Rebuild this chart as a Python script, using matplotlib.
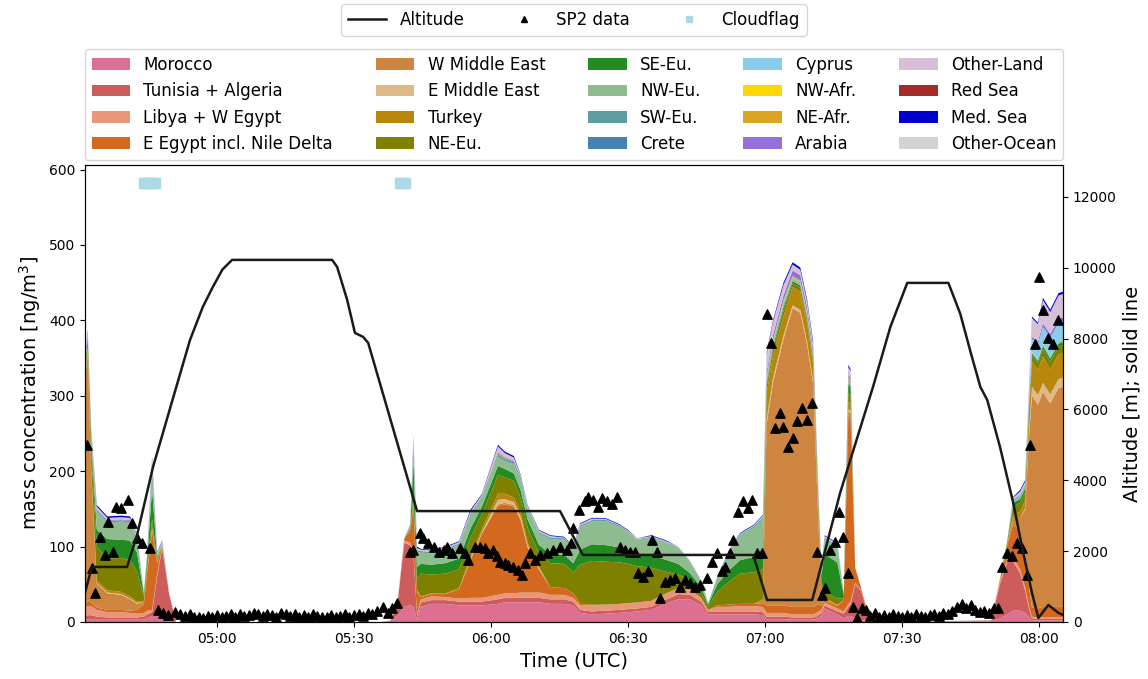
import numpy as np
import pandas as pd
import matplotlib
matplotlib.use("Agg")
import matplotlib.pyplot as plt
import matplotlib.dates as mdates
from matplotlib.lines import Line2D

# time axis: minutes after 05:00 UTC
t = [-29, -28.3, -27.5, -26.3, -24, -21, -19, -17.5, -16, -15.3, -14.2, -13.1, -12, -10.5, -9,
     36, 38, 39.5, 41, 42.3, 43, 43.8, 44.6, 47, 50, 53, 55.5, 58, 61.5, 63, 65, 66.5, 68, 70.5, 73, 76, 78,
     79.5, 82, 85, 88, 90, 92, 95, 98, 101, 103.5, 106, 107.5, 109.5, 112, 114.5, 117.5, 119.5,
     120.3, 121.7, 124, 126, 127.7, 129.2, 130.5, 131.5, 132.3, 133, 135.8, 137.2, 138.2, 138.7, 139.7, 141, 143,
     169.5, 171.5, 173, 174.3, 175.8, 176.9, 177.8, 178.4, 179.7, 180.8, 182.4, 184.2, 185.2]

morocco = [3, 3, 3, 3, 3, 3, 3, 3, 3, 5, 8, 10, 8, 3, 0,
           0, 1, 8, 20, 22, 20, 3, 20, 24, 24, 22, 22, 22, 24, 26, 26, 26, 26, 26, 24, 24, 22,
           12, 10, 11, 12, 13, 14, 16, 24, 30, 30, 22, 10, 10, 10, 10, 10, 9,
           4, 4, 4, 3, 3, 3, 3, 5, 8, 18, 10, 5, 8, 8, 5, 3, 0,
           1, 5, 10, 15, 15, 12, 6, 2, 2, 2, 2, 2, 2]
tunisia = [5, 6, 6, 4, 3, 3, 3, 3, 4, 5, 5, 50, 90, 35, 0,
           0, 1, 15, 85, 80, 70, 5, 6, 5, 5, 5, 5, 5, 6, 6, 6, 6, 6, 6, 6, 6, 5,
           4, 4, 4, 4, 4, 4, 4, 5, 7, 6, 5, 3, 4, 4, 4, 4, 4,
           3, 3, 3, 3, 3, 3, 3, 3, 4, 4, 4, 6, 12, 15, 45, 38, 0,
           1, 48, 70, 65, 50, 30, 10, 3, 2, 2, 2, 2, 2]
libya = [10, 12, 12, 9, 7, 7, 6, 5, 5, 5, 3, 3, 2, 1, 0,
         0, 0, 1, 3, 3, 3, 2, 4, 5, 4, 4, 5, 5, 6, 6, 6, 7, 7, 7, 6, 6, 5,
         6, 8, 8, 8, 8, 8, 8, 8, 8, 7, 5, 3, 6, 6, 7, 7, 7,
         5, 5, 5, 4, 4, 4, 4, 5, 4, 4, 4, 3, 4, 4, 2, 1, 0,
         0, 3, 4, 5, 5, 4, 3, 2, 2, 2, 2, 2, 2]
e_egypt = [5, 6, 5, 3, 3, 3, 3, 5, 12, 50, 105, 15, 2, 0, 0,
           0, 0, 1, 3, 15, 60, 30, 3, 3, 4, 12, 50, 85, 118, 118, 115, 95, 60, 30, 10, 9, 6,
           2, 1, 0, 0, 0, 0, 0, 0, 0, 0, 0, 0, 2, 3, 3, 3, 5,
           10, 10, 10, 10, 10, 10, 10, 10, 6, 3, 3, 15, 250, 245, 20, 3, 0,
           0, 3, 18, 45, 50, 48, 25, 12, 12, 14, 14, 14, 14]
w_mideast = [290, 330, 170, 32, 22, 20, 15, 8, 3, 2, 2, 1, 0, 0, 0,
             0, 0, 0, 0, 0, 2, 1, 0, 0, 0, 0, 1, 1, 2, 2, 2, 2, 1, 1, 0, 0, 0,
             0, 0, 0, 0, 0, 0, 0, 0, 0, 0, 0, 0, 0, 0, 0, 0, 5,
             240, 295, 353, 396, 390, 347, 296, 130, 20, 3, 2, 0, 5, 5, 0, 0, 0,
             0, 0, 2, 8, 18, 55, 205, 281, 270, 285, 270, 290, 292]
e_mideast = [3, 3, 2, 1, 1, 1, 1, 1, 0, 0, 0, 0, 0, 0, 0,
             0, 0, 0, 0, 0, 0, 0, 0, 0, 0, 0, 1, 1, 6, 5, 4, 3, 2, 1, 0, 0, 0,
             0, 0, 0, 0, 0, 0, 0, 0, 0, 0, 0, 0, 0, 0, 0, 0, 0,
             6, 6, 5, 4, 4, 4, 4, 3, 1, 0, 0, 0, 3, 3, 0, 0, 0,
             0, 0, 0, 0, 0, 2, 8, 12, 13, 12, 12, 12, 12]
turkey = [5, 5, 4, 3, 3, 3, 3, 2, 1, 2, 3, 1, 0, 0, 0,
          0, 0, 0, 0, 0, 3, 2, 1, 1, 1, 2, 3, 4, 8, 7, 6, 5, 3, 2, 0, 0, 0,
          0, 0, 0, 0, 0, 0, 0, 0, 0, 0, 0, 0, 0, 0, 0, 0, 0,
          35, 30, 25, 24, 24, 24, 22, 12, 3, 0, 0, 0, 10, 10, 0, 0, 0,
          0, 0, 0, 5, 8, 10, 25, 33, 33, 35, 33, 33, 33]
ne_eu = [8, 10, 25, 45, 42, 45, 48, 40, 6, 8, 10, 3, 0, 0, 0,
         0, 0, 0, 0, 2, 10, 15, 30, 25, 26, 25, 25, 20, 25, 22, 22, 20, 20, 18, 32, 32, 28,
         52, 58, 57, 55, 52, 48, 44, 30, 18, 12, 8, 4, 18, 30, 40, 42, 40,
         8, 8, 8, 5, 5, 5, 5, 7, 6, 8, 8, 2, 12, 11, 0, 0, 0,
         0, 1, 3, 10, 12, 11, 8, 8, 9, 10, 10, 10, 10]
se_eu = [3, 3, 10, 22, 26, 24, 26, 25, 3, 6, 40, 3, 0, 0, 0,
         0, 0, 0, 0, 2, 45, 15, 13, 13, 14, 14, 12, 10, 12, 11, 10, 10, 11, 11, 12, 12, 12,
         20, 22, 22, 20, 18, 16, 17, 16, 14, 10, 6, 3, 10, 15, 18, 20, 22,
         4, 4, 4, 3, 3, 3, 3, 8, 10, 50, 48, 5, 12, 11, 0, 0, 0,
         0, 0, 1, 5, 5, 5, 4, 3, 3, 4, 4, 4, 4]
nw_eu = [3, 3, 8, 25, 22, 24, 24, 18, 2, 4, 30, 3, 2, 0, 0,
         0, 0, 0, 0, 2, 25, 20, 15, 15, 17, 18, 18, 12, 12, 10, 12, 14, 14, 15, 20, 20, 18,
         30, 30, 32, 27, 24, 19, 23, 23, 21, 15, 8, 2, 9, 23, 33, 39, 45,
         6, 5, 5, 3, 3, 3, 3, 6, 5, 20, 20, 2, 6, 6, 0, 0, 0,
         0, 0, 0, 5, 5, 4, 3, 2, 2, 3, 3, 3, 3]
sw_eu = [1, 1, 1, 2, 2, 2, 2, 1, 0, 1, 3, 1, 1, 0, 0,
         0, 0, 0, 0, 0, 2, 2, 2, 2, 2, 2, 2, 2, 3, 3, 3, 3, 2, 2, 2, 2, 2,
         2, 2, 2, 2, 1, 1, 1, 1, 1, 1, 1, 0, 1, 1, 1, 2, 2,
         1, 1, 1, 1, 1, 1, 1, 1, 0, 2, 2, 0, 1, 1, 0, 0, 0,
         0, 0, 0, 0, 0, 0, 0, 0, 0, 0, 0, 0, 0]
crete = [0, 0, 0, 0, 0, 0, 0, 0, 0, 0, 1, 0, 0, 0, 0,
         0, 0, 0, 0, 0, 0, 0, 0, 0, 0, 0, 0, 0, 1, 1, 1, 0, 0, 0, 0, 0, 0,
         0, 0, 0, 0, 0, 0, 0, 0, 0, 0, 0, 0, 0, 0, 0, 0, 0,
         0, 0, 0, 0, 0, 0, 0, 0, 0, 0, 0, 0, 0, 0, 0, 0, 0,
         0, 0, 0, 0, 0, 0, 0, 0, 0, 0, 0, 0, 0]
cyprus = [0, 0, 0, 0, 0, 0, 0, 0, 0, 0, 0, 0, 0, 0, 0,
          0, 0, 0, 0, 0, 1, 0, 0, 0, 0, 0, 0, 0, 0, 0, 0, 0, 0, 0, 0, 0, 0,
          0, 0, 0, 0, 0, 0, 0, 0, 0, 0, 0, 0, 0, 0, 0, 0, 0,
          1, 1, 1, 1, 1, 1, 1, 0, 0, 0, 0, 0, 0, 0, 0, 0, 0,
          0, 0, 0, 0, 0, 1, 8, 17, 20, 22, 25, 25, 25]
nw_afr = [0, 0, 0, 0, 0, 0, 0, 0, 0, 0, 0, 0, 0, 0, 0,
          0, 0, 0, 0, 0, 0, 0, 0, 0, 0, 0, 0, 0, 0, 0, 0, 0, 0, 0, 0, 0, 0,
          0, 0, 0, 0, 0, 0, 0, 0, 0, 0, 0, 0, 0, 0, 0, 0, 0,
          0, 0, 0, 0, 0, 0, 0, 0, 0, 0, 0, 0, 0, 0, 0, 0, 0,
          0, 0, 0, 0, 0, 0, 0, 0, 0, 0, 0, 0, 0]
ne_afr = [0, 0, 0, 0, 0, 0, 0, 0, 0, 0, 0, 0, 0, 0, 0,
          0, 0, 0, 0, 0, 0, 0, 0, 0, 0, 0, 0, 0, 2, 1, 0, 0, 0, 0, 0, 0, 0,
          0, 0, 0, 0, 0, 0, 0, 0, 0, 0, 0, 0, 0, 0, 0, 0, 0,
          2, 2, 3, 2, 2, 2, 2, 1, 0, 0, 0, 0, 2, 2, 0, 0, 0,
          0, 0, 0, 0, 0, 0, 0, 0, 0, 0, 0, 0, 0]
arabia = [1, 1, 1, 1, 1, 1, 1, 1, 0, 0, 1, 0, 0, 0, 0,
          0, 0, 0, 0, 0, 0, 0, 0, 0, 0, 0, 0, 0, 1, 1, 1, 1, 0, 0, 0, 0, 0,
          0, 0, 0, 0, 0, 0, 0, 0, 0, 0, 0, 0, 0, 0, 0, 0, 0,
          6, 6, 6, 7, 7, 7, 6, 3, 0, 0, 0, 0, 3, 3, 0, 0, 0,
          0, 0, 0, 0, 1, 1, 3, 3, 4, 5, 5, 5, 5]
other_land = [3, 3, 3, 3, 3, 3, 3, 2, 1, 1, 5, 2, 2, 1, 0,
              0, 0, 0, 1, 1, 3, 3, 2, 2, 2, 2, 3, 2, 7, 5, 4, 2, 2, 2, 2, 1, 1,
              2, 2, 1, 1, 1, 1, 1, 1, 1, 1, 0, 0, 0, 1, 1, 1, 2,
              24, 18, 14, 8, 7, 7, 6, 5, 2, 2, 3, 0, 10, 9, 1, 0, 0,
              0, 0, 1, 2, 4, 3, 10, 25, 23, 31, 29, 31, 31]
red_sea = [0, 0, 0, 0, 0, 0, 0, 0, 0, 0, 0, 0, 0, 0, 0,
           0, 0, 0, 0, 0, 0, 0, 0, 0, 0, 0, 0, 0, 0, 0, 0, 0, 0, 0, 0, 0, 0,
           0, 0, 0, 0, 0, 0, 0, 0, 0, 0, 0, 0, 0, 0, 0, 0, 0,
           0, 0, 0, 0, 0, 0, 0, 0, 0, 0, 0, 0, 0, 0, 0, 0, 0,
           0, 0, 0, 0, 0, 0, 0, 0, 0, 0, 0, 0, 0]
med_sea = [2, 2, 2, 2, 2, 2, 2, 1, 0, 1, 3, 1, 1, 0, 0,
           0, 0, 0, 0, 1, 2, 2, 1, 1, 1, 1, 2, 1, 2, 2, 2, 1, 1, 1, 1, 1, 1,
           1, 1, 1, 1, 1, 0, 1, 1, 0, 0, 0, 0, 0, 1, 1, 1, 1,
           2, 2, 3, 3, 3, 3, 3, 1, 1, 1, 1, 0, 3, 2, 0, 0, 0,
           0, 0, 0, 1, 2, 2, 2, 2, 2, 3, 3, 3, 3]
other_ocean = [0, 0, 0, 0, 0, 0, 0, 0, 0, 0, 0, 0, 0, 0, 0,
               0, 0, 0, 0, 0, 0, 0, 0, 0, 0, 0, 0, 0, 0, 0, 0, 0, 0, 0, 0, 0, 0,
               0, 0, 0, 0, 0, 0, 0, 0, 0, 0, 0, 0, 0, 0, 0, 0, 0,
               0, 0, 0, 0, 0, 0, 0, 0, 0, 0, 0, 0, 0, 0, 0, 0, 0,
               0, 0, 0, 0, 0, 0, 0, 0, 0, 0, 0, 0, 0]

regions = ["Morocco", "Tunisia + Algeria", "Libya + W Egypt", "E Egypt incl. Nile Delta",
           "W Middle East", "E Middle East", "Turkey", "NE-Eu.",
           "SE-Eu.", "NW-Eu.", "SW-Eu.", "Crete",
           "Cyprus", "NW-Afr.", "NE-Afr.", "Arabia",
           "Other-Land", "Red Sea", "Med. Sea", "Other-Ocean"]
colors = ["palevioletred", "indianred", "darksalmon", "chocolate",
          "peru", "burlywood", "darkgoldenrod", "olive",
          "forestgreen", "darkseagreen", "cadetblue", "steelblue",
          "skyblue", "gold", "goldenrod", "mediumpurple",
          "thistle", "brown", "mediumblue", "lightgrey"]
series = [morocco, tunisia, libya, e_egypt, w_mideast, e_mideast, turkey, ne_eu,
          se_eu, nw_eu, sw_eu, crete, cyprus, nw_afr, ne_afr, arabia,
          other_land, red_sea, med_sea, other_ocean]

# SP2 measured BC (1 min)
sp2_t = [-28.5, -27.4, -26.7, -25.6, -24.5, -23.8, -22.7, -22.0, -20.9, -19.5, -18.7, -17.6, -16.5, -14.7,
         -13.0, -11.8, -10.7, -9.2, -8, -7, -6, -5, -4, -3, -2, -1, 0, 1, 2, 3, 4, 5, 6, 7, 8, 9, 10,
         11, 12, 13, 14, 15, 16, 17, 18, 19, 20, 21, 22, 23, 24, 25, 26, 27, 28, 29, 30, 31, 32, 33,
         34, 35, 36.3, 37.4, 38.3, 39.4,
         42.3, 43, 44.4, 45.2, 46.3, 47.4, 48.5, 49.6, 50.3, 51.5, 53.2, 54.3, 55, 56.5, 57.6, 58.7,
         59.3, 60.4, 61.3, 62, 63.1, 63.7, 64.8, 65.9, 66.8, 67.4, 68.5, 69.6, 70.7, 72.2, 73.6, 75.1,
         76.6, 77.5, 78, 79.2,
         80.6, 81.2, 82.3, 83.4, 84.3, 85.4, 86.5, 87.6, 88.2, 89.3, 90.4, 91.5, 92.2, 93.3, 94.4,
         95.2, 96.3, 97, 98.1, 99.2, 100.3, 101.4, 102.5, 103.6, 104.7, 105.8, 107.3, 108.4, 109.5,
         110.6, 111.2, 112.3, 113, 114.1, 115.2, 116.3, 117.1, 118.2, 119.3,
         120.4, 121.3, 122.2, 123.3, 123.9, 125, 126.1, 127, 128.1, 129.2, 130.3, 131.4, 132.5, 133.1,
         134.2, 135.3, 136.2, 137.1, 138.2, 139.3, 140.1, 141.2, 142.1,
         143, 144, 145, 146, 147, 148, 149, 150, 151, 152, 153, 154, 155, 156, 157, 158, 159, 160,
         161, 162, 163, 164, 165, 166, 167, 168, 169, 170,
         171, 171.9, 173, 174.1, 175.2, 176.3, 177.2, 178, 179.1, 180, 180.9, 182, 183.1, 184.2]
sp2_v = [235, 72, 38, 113, 89, 133, 93, 153, 151, 162, 131, 111, 105, 98,
         16, 12, 9, 13, 10, 8, 11, 6, 7, 5, 8, 6, 9, 7, 8, 10, 6, 11, 8, 9, 12, 10, 8,
         11, 9, 7, 12, 10, 8, 11, 6, 9, 7, 10, 8, 6, 7, 9, 6, 8, 10, 7, 9, 11, 8, 12,
         10, 14, 20, 12, 18, 25,
         93, 96, 118, 111, 105, 100, 93, 96, 100, 91, 98, 91, 82, 100, 100, 98,
         91, 96, 87, 80, 78, 76, 73, 69, 62, 78, 91, 82, 89, 91, 96, 100,
         96, 105, 125, 149,
         160, 166, 162, 153, 164, 160, 157, 166, 100, 96, 93, 93, 65, 60, 67,
         109, 93, 32, 53, 56, 58, 47, 56, 52, 47, 49, 58, 80, 91,
         67, 73, 91, 109, 146, 160, 151, 162, 91, 91,
         408, 370, 257, 277, 259, 232, 244, 266, 284, 268, 291, 93, 36, 45,
         96, 106, 146, 113, 65, 20, 5, 19, 16,
         8, 12, 6, 9, 7, 10, 8, 6, 9, 7, 10, 8, 6, 9, 11, 8, 12, 10,
         14, 20, 24, 18, 22, 16, 13, 15, 12, 18,
         19, 73, 91, 87, 105, 98, 62, 235, 368, 457, 414, 377, 368, 401]

# cloud flag
cloud_t = [-16, -15.5, -15, -14.5, -14, -13.6, 40.1, 40.6, 41.2]
cloud_v = [582, 582, 582, 582, 582, 582, 582, 582, 582]

# flight altitude
alt_t = [-28.9, -27.4, -19.7, -17.5, -14.0, -10.0, -5.9, -3.1, -0.9, 1.2, 3.3, 25.2, 26.3, 28.5, 30.2,
         32.0, 33.1, 43.8, 75.1, 80.1, 117.4, 120.4, 130.3, 136.4, 143.6, 147.4, 151.1, 160.1, 162.7,
         165.0, 167.1, 168.6, 171.4, 174.3, 176.5, 178.4, 179.8, 182.0, 184.2, 185.2]
alt_m = [819, 1553, 1553, 2450, 4376, 6150, 7962, 8894, 9459, 9950, 10221, 10221, 10024, 9092, 8160,
         8047, 7878, 3130, 3130, 1892, 1892, 621, 621, 3642, 6635, 8329, 9572, 9572, 8700,
         7600, 6635, 6268, 4941, 3360, 1948, 819, 113, 480, 254, 200]

start = pd.Timestamp("2000-01-01 05:00")


def to_x(minutes):
    return mdates.date2num(start + pd.to_timedelta(minutes, unit="min"))


fig, ax = plt.subplots(figsize=(11.48, 6.79), dpi=100)
fig.subplots_adjust(left=0.074, right=0.926, bottom=0.084, top=0.757)

ax.stackplot(to_x(t), *series, colors=colors, labels=regions)
ax.scatter(to_x(sp2_t), sp2_v, marker="^", color="black", s=45, zorder=3)
ax.scatter(to_x(cloud_t), cloud_v, marker="s", color="lightblue", s=55, zorder=3)

ax2 = ax.twinx()
ax2.plot(to_x(alt_t), alt_m, color="#1a1a1a", lw=1.8)

ax.set_xlim(to_x([-28.9])[0], to_x([185.2])[0])
ax.set_ylim(0, 606)
ax2.set_ylim(0, 12900)
ax.set_yticks([0, 100, 200, 300, 400, 500, 600])
ax2.set_yticks([0, 2000, 4000, 6000, 8000, 10000, 12000])
ax.xaxis.set_major_locator(mdates.MinuteLocator(byminute=[0, 30]))
ax.xaxis.set_major_formatter(mdates.DateFormatter("%H:%M"))

ax.set_xlabel("Time (UTC)", fontsize=14)
ax.set_ylabel("mass concentration [ng/m$^3$]", fontsize=14)
ax2.set_ylabel("Altitude [m]; solid line", fontsize=14)

ax.legend(loc="lower left", bbox_to_anchor=(0, 1.012, 1, 0.2), mode="expand",
          ncol=5, fontsize=12, borderaxespad=0, handlelength=2.3)

top_handles = [Line2D([], [], color="#1a1a1a", lw=1.8),
               Line2D([], [], marker="^", ls="none", color="black", markersize=5),
               Line2D([], [], marker="s", ls="none", color="lightblue", markersize=5)]
fig.legend(top_handles, ["Altitude", "SP2 data", "Cloudflag"], loc="upper center",
           bbox_to_anchor=(0.5, 1.0), borderaxespad=0.25, ncol=3, fontsize=12,
           handlelength=2.3, columnspacing=2.4)

fig.savefig("out.png", dpi=100)
